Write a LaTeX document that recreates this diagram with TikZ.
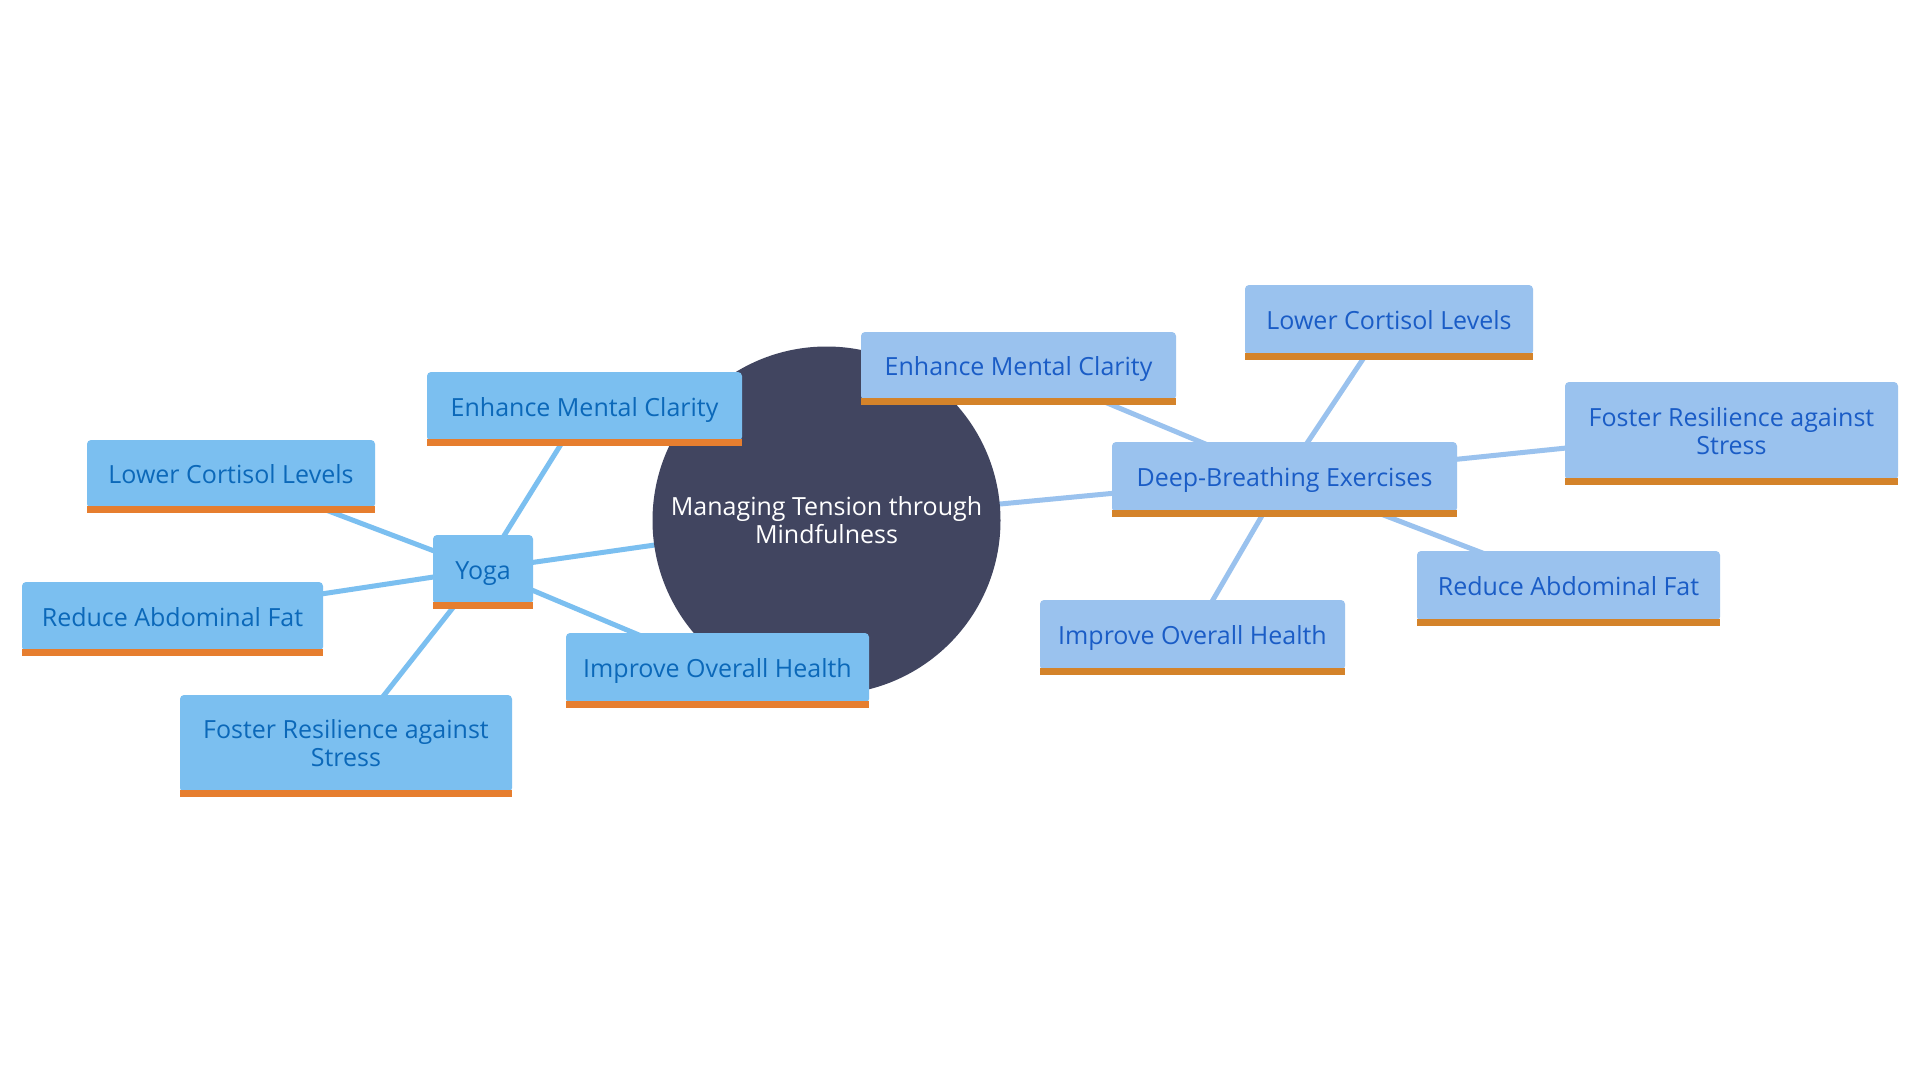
\documentclass[tikz,border=0pt]{standalone}
\usepackage{fontspec}
\setmainfont{Open Sans}
\definecolor{lfill}{HTML}{7BBFF0}
\definecolor{rfill}{HTML}{9AC2EE}
\definecolor{ltext}{HTML}{0B68B9}
\definecolor{rtext}{HTML}{1A5CC6}
\definecolor{lbar}{HTML}{E67E2F}
\definecolor{rbar}{HTML}{D4832A}
\definecolor{hub}{HTML}{414560}
\tikzset{
  box/.style={rounded corners=4pt, inner sep=0pt, align=center,
    font=\fontsize{25}{28}\selectfont},
  one/.style={text height=25pt, text depth=6pt},
  lbox/.style={box, fill=lfill, text=ltext},
  rbox/.style={box, fill=rfill, text=rtext},
  lline/.style={draw=lfill, line width=5pt},
  rline/.style={draw=rfill, line width=5pt},
  lbarst/.style={fill=lbar},
  rbarst/.style={fill=rbar},
}
\begin{document}
\begin{tikzpicture}[x=1pt, y=-1pt]
\useasboundingbox[fill=white] (0,0) rectangle (1920,1080);
% coordinates for node centres
\coordinate (c-hub) at (826.5,520.5);
\coordinate (c-yoga) at (483,569.5);
\coordinate (c-eml) at (584.5,406.5);
\coordinate (c-lcl) at (231,474);
\coordinate (c-rafl) at (172.5,616.5);
\coordinate (c-frl) at (346,743.5);
\coordinate (c-iohl) at (717.5,668);
\coordinate (c-deep) at (1284.5,477);
\coordinate (c-emr) at (1018.5,366);
\coordinate (c-lcr) at (1389,320);
\coordinate (c-frr) at (1731.5,431);
\coordinate (c-rafr) at (1568.5,586);
\coordinate (c-iohr) at (1192.5,635);
% connectors (under everything)
\draw[lline] (c-yoga) -- (c-hub);
\draw[lline] (c-yoga) -- (c-eml);
\draw[lline] (c-yoga) -- (c-lcl);
\draw[lline] (c-yoga) -- (c-rafl);
\draw[lline] (c-yoga) -- (c-frl);
\draw[lline] (c-yoga) -- (c-iohl);
\draw[rline] (c-hub) -- (c-deep);
\draw[rline] (c-deep) -- (c-emr);
\draw[rline] (c-deep) -- (c-lcr);
\draw[rline] (c-deep) -- (c-frr);
\draw[rline] (c-deep) -- (c-rafr);
\draw[rline] (c-deep) -- (c-iohr);
% hub
\node[circle, fill=hub, minimum size=348pt, inner sep=0pt, text=white, align=center,
  font=\fontsize{25}{28}\selectfont] (hub) at (c-hub) {Managing Tension through\\Mindfulness};
% left boxes
\node[lbox, one, minimum width=315pt, minimum height=69pt] (eml) at (c-eml) {Enhance Mental Clarity};
\node[lbox, one, minimum width=288pt, minimum height=68pt] (lcl) at (c-lcl) {Lower Cortisol Levels};
\node[lbox, one, minimum width=100pt, minimum height=69pt] (yoga) at (c-yoga) {Yoga};
\node[lbox, one, minimum width=301pt, minimum height=69pt] (rafl) at (c-rafl) {Reduce Abdominal Fat};
\node[lbox, minimum width=332pt, minimum height=97pt] (frl) at (c-frl) {Foster Resilience against\\Stress};
\node[lbox, one, minimum width=303pt, minimum height=70pt] (iohl) at (c-iohl) {Improve Overall Health};
% right boxes
\node[rbox, one, minimum width=315pt, minimum height=68pt] (emr) at (c-emr) {Enhance Mental Clarity};
\node[rbox, one, minimum width=345pt, minimum height=70pt] (deep) at (c-deep) {Deep-Breathing Exercises};
\node[rbox, one, minimum width=288pt, minimum height=70pt] (lcr) at (c-lcr) {Lower Cortisol Levels};
\node[rbox, minimum width=333pt, minimum height=98pt] (frr) at (c-frr) {Foster Resilience against\\Stress};
\node[rbox, one, minimum width=303pt, minimum height=70pt] (rafr) at (c-rafr) {Reduce Abdominal Fat};
\node[rbox, one, minimum width=305pt, minimum height=70pt] (iohr) at (c-iohr) {Improve Overall Health};
% orange bars
\foreach \n in {eml,lcl,yoga,rafl,frl,iohl}
  \fill[lbarst] ([yshift=2pt]\n.south west) rectangle ([yshift=-5pt]\n.south east);
\foreach \n in {emr,deep,lcr,frr,rafr,iohr}
  \fill[rbarst] ([yshift=2pt]\n.south west) rectangle ([yshift=-5pt]\n.south east);
\end{tikzpicture}
\end{document}
